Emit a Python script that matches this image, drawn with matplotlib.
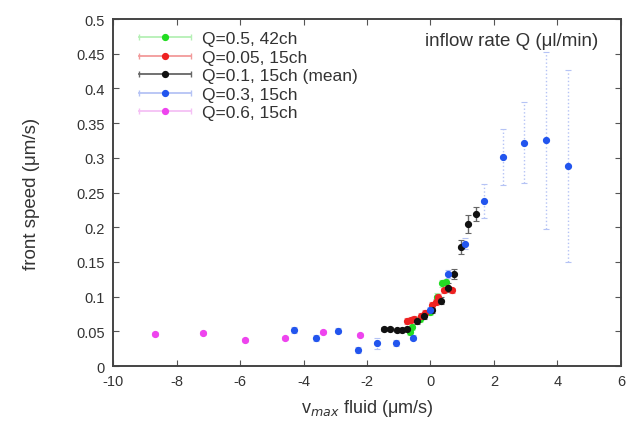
import matplotlib
matplotlib.use("Agg")
import matplotlib.pyplot as plt
from matplotlib.lines import Line2D
from matplotlib.legend_handler import HandlerLine2D, HandlerTuple

plt.rcParams['font.family'] = ['Liberation Sans', 'DejaVu Sans']
plt.rcParams['axes.unicode_minus'] = False

# ---- data ----
labels = ["Q=0.5, 42ch", "Q=0.05, 15ch", "Q=0.1, 15ch (mean)", "Q=0.3, 15ch", "Q=0.6, 15ch"]
colors = ["#22dd22", "#ee2222", "#111111", "#2255ee", "#ee44ee"]
ecolors = ["#b5f0b5", "#f29a9a", "#666666", "#b5c3f5", "#f5c0f5"]
estyles = ["-", "-", "-", ":", ":"]

g_x = [-0.63, -0.58, -0.32, 0.0, 0.2, 0.37, 0.5]
g_y = [0.049, 0.056, 0.068, 0.078, 0.100, 0.119, 0.121]
g_e = [0.004, 0.004, 0.004, 0.004, 0.005, 0.005, 0.005]

r_x = [-0.74, -0.6, -0.53, -0.3, -0.16, 0.05, 0.16, 0.25, 0.42, 0.55, 0.68]
r_y = [0.065, 0.067, 0.068, 0.072, 0.077, 0.088, 0.092, 0.100, 0.109, 0.112, 0.109]
r_e = [0.004] * 11

k_x = [-1.47, -1.26, -1.05, -0.89, -0.74, -0.42, -0.21, 0.05, 0.32, 0.55, 0.74, 0.95, 1.18, 1.45]
k_y = [0.053, 0.053, 0.052, 0.052, 0.053, 0.065, 0.072, 0.080, 0.094, 0.113, 0.133, 0.171, 0.205, 0.219]
k_e = [0.003, 0.003, 0.003, 0.003, 0.003, 0.004, 0.004, 0.004, 0.005, 0.006, 0.007, 0.010, 0.013, 0.010]

b_x = [-4.31, -3.60, -2.91, -2.28, -1.70, -1.10, -0.55, 0.0, 0.55, 1.10, 1.68, 2.29, 2.94, 3.63, 4.34]
b_y = [0.052, 0.040, 0.051, 0.023, 0.033, 0.033, 0.041, 0.080, 0.133, 0.176, 0.238, 0.301, 0.322, 0.325, 0.288]
b_e = [0.004, 0.004, 0.004, 0.004, 0.008, 0.004, 0.004, 0.005, 0.006, 0.008, 0.024, 0.040, 0.058, 0.127, 0.138]

m_x = [-8.68, -7.17, -5.84, -4.57, -3.39, -2.23]
m_y = [0.046, 0.047, 0.038, 0.040, 0.049, 0.045]
m_e = [0.003] * 6

series = [(g_x, g_y, g_e), (r_x, r_y, r_e), (k_x, k_y, k_e), (b_x, b_y, b_e), (m_x, m_y, m_e)]

fig = plt.figure(figsize=(6.29, 4.27), dpi=100)
ax = fig.add_axes([0.180, 0.1405, 0.807, 0.8125])

handles = []
handler_map = {}
for (x, y, e), c, ec, es, lab in zip(series, colors, ecolors, estyles, labels):
    cont = ax.errorbar(x, y, yerr=e, fmt='o', color=c, ms=4.2, mec=c,
                       ecolor=ec, elinewidth=1.0, capsize=2.5, capthick=0.8)
    for lc in cont[2]:
        lc.set_linestyle(es)
    cap = Line2D([], [], color=ec, lw=1.3, marker='|', ms=5, mew=1.0)
    dot = Line2D([], [], color=c, ls='none', marker='o', ms=4.2)
    handler_map[cap] = HandlerLine2D(numpoints=2)
    handler_map[dot] = HandlerLine2D(numpoints=1)
    handles.append((cap, dot))
handler_map[tuple] = HandlerTuple(ndivide=1, pad=0)

leg = ax.legend(handles, labels, handler_map=handler_map, loc='upper left',
                bbox_to_anchor=(0.04, 0.965), frameon=False, fontsize=12.5,
                handlelength=3.6, handleheight=0.6, handletextpad=0.35,
                labelspacing=0.2, borderaxespad=0, borderpad=0)
for t in leg.get_texts():
    t.set_color('#333333')

ax.text(0.955, 0.962, "inflow rate Q (μl/min)", transform=ax.transAxes,
        ha='right', va='top', fontsize=13.5, color='#333333')

ax.set_xlim(-10, 6)
ax.set_ylim(0, 0.5)
ax.set_xticks(range(-10, 7, 2))
ax.set_yticks([0, 0.05, 0.1, 0.15, 0.2, 0.25, 0.3, 0.35, 0.4, 0.45, 0.5])
ax.set_yticklabels(["0", "0.05", "0.1", "0.15", "0.2", "0.25", "0.3", "0.35", "0.4", "0.45", "0.5"])
ax.tick_params(direction='in', top=True, right=True, length=4, width=0.8,
               labelsize=10.5, labelcolor='#333333', colors='#555555', pad=6)
for s in ax.spines.values():
    s.set_color('#444444')
    s.set_linewidth(1.4)

ax.set_xlabel("v$_{max}$ fluid (μm/s)", fontsize=13, color='#333333', labelpad=6)
ax.set_ylabel("front speed (μm/s)", fontsize=13.5, color='#333333', labelpad=26)

fig.savefig("out.png", dpi=100)
